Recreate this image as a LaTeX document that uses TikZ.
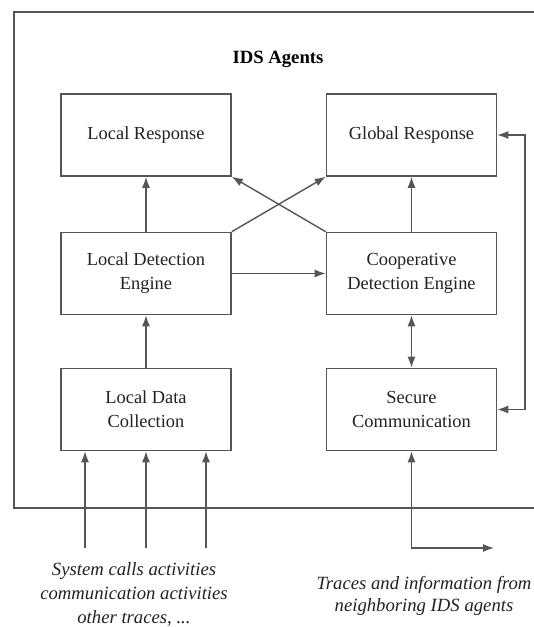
\documentclass[tikz,border=0pt]{standalone}
\usepackage{fontspec}
\setmainfont{Liberation Serif}
\usetikzlibrary{arrows.meta}
\definecolor{linegray}{HTML}{555555}
\definecolor{txt}{HTML}{222222}
\begin{document}
\begin{tikzpicture}[x=0.5pt,y=-0.5pt,
  blockbox/.style={draw=linegray, line width=0.8pt, minimum width=85pt, minimum height=41pt,
    align=center, inner sep=0pt, text=txt, font=\fontsize{9.2}{12}\selectfont},
  conn/.style={draw=linegray, line width=0.7pt, -{Latex[length=5.5pt,width=4pt]}},
  biconn/.style={draw=linegray, line width=0.7pt, {Latex[length=5.5pt,width=4pt]}-{Latex[length=5.5pt,width=4pt]}},
  note/.style={align=center, text=txt, font=\itshape\fontsize{9.35}{12}\selectfont, inner sep=0pt}]
\useasboundingbox (0,0) rectangle (534,627);
\fill[white] (0,0) rectangle (534,627);
% outer frame (open at right)
\draw[draw=linegray, line width=1pt] (534,12) -- (14,12) -- (14,508) -- (534,508);
\node[font=\bfseries\fontsize{9.35}{12}\selectfont, text=black] (title) at (278,59) {IDS Agents};
% blocks
\node[blockbox] (lr)  at (146,135) {Local Response};
\node[blockbox] (gr)  at (411.5,135) {Global Response};
\node[blockbox] (lde) at (146,273.5) {Local Detection\\Engine};
\node[blockbox] (cde) at (411.5,273.5) {Cooperative\\Detection Engine};
\node[blockbox] (ldc) at (146,409.5) {Local Data\\Collection};
\node[blockbox] (sc)  at (411.5,409.5) {Secure\\Communication};
% connectors
\draw[conn] (lde) -- (lr);
\draw[conn] (ldc) -- (lde);
\draw[conn] (cde) -- (gr);
\draw[biconn] (cde) -- (sc);
\draw[conn] (lde.north east) -- (gr.south west);
\draw[conn] (cde.north west) -- (lr.south east);
\draw[conn] (lde.east) -- (cde.west);
\coordinate (fb) at (525,135);
\draw[biconn] (gr.east) -- (fb) |- (sc.east);
% external inputs
\coordinate (in1) at (85,548);
\coordinate (in2) at (146,548);
\coordinate (in3) at (206,548);
\draw[conn] (in1) -- (in1 |- ldc.south);
\draw[conn] (in2) -- (in2 |- ldc.south);
\draw[conn] (in3) -- (in3 |- ldc.south);
\coordinate (outR) at (494,548);
\draw[biconn] (sc.south) |- (outR);
% notes
\node[note] (n1) at (134,594) {System calls activities\\communication activities\\other traces, ...};
\node[note, font=\itshape\fontsize{9.35}{10.8}\selectfont] (n2) at (424,596) {Traces and information from\\neighboring IDS agents};
\end{tikzpicture}
\end{document}
